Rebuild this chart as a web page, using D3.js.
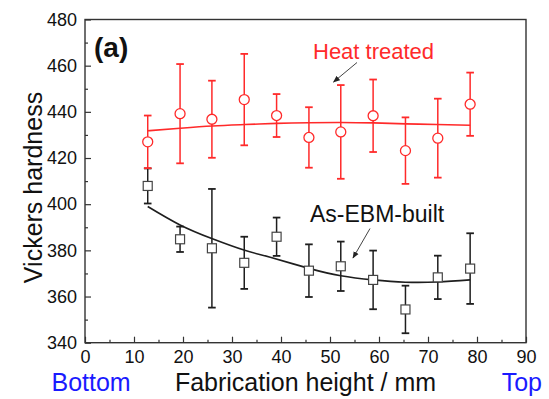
<!DOCTYPE html>
<html>
<head>
<meta charset="utf-8">
<script src="https://cdn.jsdelivr.net/npm/d3@7"></script>
<style>
  body { margin: 0; background: #fff; }
  svg { font-family: "Liberation Sans", Arial, sans-serif; }
</style>
</head>
<body>
<svg id="chart" width="549" height="399"></svg>
<script>
// ── Data ──────────────────────────────────────────────────────────────────
const heights = [12.8, 19.4, 25.9, 32.5, 39.1, 45.7, 52.2, 58.8, 65.4, 72.0, 78.6];

const heatMean = [427.0, 439.2, 436.8, 445.3, 438.4, 428.9, 431.3, 438.3, 423.2, 428.6, 443.3];
const heatErr  = [11.4, 21.5, 16.7, 19.8, 9.3, 13.1, 20.3, 15.7, 14.4, 17.1, 13.7];

const asBuiltMean = [407.9, 384.8, 380.9, 374.6, 385.9, 371.2, 373.1, 367.2, 354.4, 368.3, 372.1];
const asBuiltErr  = [7.6, 5.5, 25.7, 11.3, 8.3, 11.4, 10.7, 12.7, 10.3, 9.4, 15.3];

// fitted trend curves
const heatFitX = [12.8, 19.4, 26.0, 32.6, 39.1, 45.7, 52.2, 58.9, 65.5, 71.8, 78.6];
const heatFitY = [431.8, 432.9, 433.9, 434.5, 435.0, 435.3, 435.4, 435.2, 434.8, 434.5, 434.2];
const asBuiltFitX = [12.8, 19.4, 26.0, 32.6, 37.8, 45.7, 52.2, 58.8, 65.4, 72.0, 78.6];
const asBuiltFitY = [399.0, 391.0, 385.0, 380.0, 377.0, 372.2, 369.0, 367.2, 366.2, 366.3, 367.2];

const xTicks = [0, 10, 20, 30, 40, 50, 60, 70, 80, 90];
const yTicks = [340, 360, 380, 400, 420, 440, 460, 480];

// ── Layout ─────────────────────────────────────────────────────────────
const svg = d3.select("#chart");
const margin = { left: 85, top: 19.5, right: 23, bottom: 56.3 };
const W = 549, H = 399;
const iw = W - margin.left - margin.right;
const ih = H - margin.top - margin.bottom;

const x = d3.scaleLinear().domain([0, 90]).range([0, iw]);
const y = d3.scaleLinear().domain([340, 480]).range([ih, 0]);

const g = svg.append("g").attr("transform", `translate(${margin.left},${margin.top})`);

const RED = "#ff2a2a";
const DARK = "#1e1e1e";
const AXIS = "#333";

// minor ticks
g.append("g")
  .attr("transform", `translate(0,${ih})`)
  .call(d3.axisBottom(x).tickValues(d3.range(5, 90, 10)).tickSize(-3).tickFormat(""))
  .call(a => a.select(".domain").remove())
  .selectAll("line").attr("stroke", AXIS).attr("stroke-width", 1.2);
g.append("g")
  .call(d3.axisLeft(y).tickValues(d3.range(350, 480, 20)).tickSize(-3).tickFormat(""))
  .call(a => a.select(".domain").remove())
  .selectAll("line").attr("stroke", AXIS).attr("stroke-width", 1.2);

// major ticks + labels
const xAxis = g.append("g")
  .attr("transform", `translate(0,${ih})`)
  .call(d3.axisBottom(x).tickValues(xTicks).tickSize(-6).tickPadding(8).tickFormat(d3.format("d")));
const yAxis = g.append("g")
  .call(d3.axisLeft(y).tickValues(yTicks).tickSize(-6).tickPadding(8).tickFormat(d3.format("d")));

[xAxis, yAxis].forEach(a => {
  a.select(".domain").remove();
  a.selectAll("line").attr("stroke", AXIS).attr("stroke-width", 1.2);
  a.selectAll("text")
    .attr("fill", "#111")
    .style("font-size", "18px")
    .style("font-family", "'Liberation Sans', Arial, sans-serif");
});

// frame
g.append("rect")
  .attr("width", iw).attr("height", ih)
  .attr("fill", "none").attr("stroke", AXIS).attr("stroke-width", 1.4);

// ── Fit curves ──────────────────────────────────────────────────────────
const fitLine = d3.line().x(d => x(d[0])).y(d => y(d[1])).curve(d3.curveNatural);

g.append("path")
  .datum(d3.zip(heatFitX, heatFitY))
  .attr("d", fitLine)
  .attr("fill", "none").attr("stroke", RED).attr("stroke-width", 1.6);

g.append("path")
  .datum(d3.zip(asBuiltFitX, asBuiltFitY))
  .attr("d", fitLine)
  .attr("fill", "none").attr("stroke", DARK).attr("stroke-width", 1.6);

// ── Error bars + markers ──────────────────────────────────────────────────
function drawSeries(means, errs, color, shape) {
  const rows = heights.map((h, i) => ({ h, m: means[i], e: errs[i] }));
  const s = g.append("g");
  const bar = s.selectAll("g").data(rows).enter().append("g")
    .attr("stroke", color).attr("stroke-width", 1.5);
  bar.append("line")
    .attr("x1", d => x(d.h)).attr("x2", d => x(d.h))
    .attr("y1", d => y(d.m - d.e)).attr("y2", d => y(d.m + d.e));
  [-1, 1].forEach(k => {
    bar.append("line")
      .attr("x1", d => x(d.h) - 3.8).attr("x2", d => x(d.h) + 3.8)
      .attr("y1", d => y(d.m + k * d.e)).attr("y2", d => y(d.m + k * d.e))
      .attr("stroke-width", 1.8);
  });
  if (shape === "circle") {
    s.selectAll("circle").data(rows).enter().append("circle")
      .attr("cx", d => x(d.h)).attr("cy", d => y(d.m)).attr("r", 5)
      .attr("fill", "#fff").attr("stroke", color).attr("stroke-width", 1.3);
  } else {
    s.selectAll("rect.mk").data(rows).enter().append("rect")
      .attr("class", "mk")
      .attr("x", d => x(d.h) - 4.5).attr("y", d => y(d.m) - 4.5)
      .attr("width", 9).attr("height", 9)
      .attr("fill", "#fff").attr("stroke", "#444").attr("stroke-width", 1.2);
  }
}

drawSeries(asBuiltMean, asBuiltErr, DARK, "square");
drawSeries(heatMean, heatErr, RED, "circle");

// ── Annotations ────────────────────────────────────────────────────────
const defs = svg.append("defs");
defs.append("marker")
  .attr("id", "arrow")
  .attr("viewBox", "0 -5 10 10")
  .attr("refX", 9).attr("refY", 0)
  .attr("markerWidth", 7).attr("markerHeight", 7)
  .attr("markerUnits", "userSpaceOnUse")
  .attr("orient", "auto")
  .append("path").attr("d", "M0,-4L10,0L0,4Z").attr("fill", "#222");

svg.append("line")
  .attr("x1", 357).attr("y1", 62.5).attr("x2", 333.5).attr("y2", 82)
  .attr("stroke", "#444").attr("stroke-width", 1).attr("marker-end", "url(#arrow)");
svg.append("line")
  .attr("x1", 370).attr("y1", 228.5).attr("x2", 353).attr("y2", 258)
  .attr("stroke", "#444").attr("stroke-width", 1).attr("marker-end", "url(#arrow)");

svg.append("text")
  .attr("x", 313).attr("y", 58.5)
  .attr("fill", RED).style("font-size", "22px")
  .text("Heat treated");

svg.append("text")
  .attr("x", 310).attr("y", 221.5)
  .attr("fill", "#111").style("font-size", "23px")
  .text("As-EBM-built");

svg.append("text")
  .attr("x", 94).attr("y", 57)
  .attr("fill", "#111").style("font-size", "28px").style("font-weight", "bold")
  .text("(a)");

// axis titles
svg.append("text")
  .attr("x", margin.left + iw / 2).attr("y", 391)
  .attr("text-anchor", "middle")
  .attr("fill", "#111").style("font-size", "25px")
  .text("Fabrication height / mm");

svg.append("text")
  .attr("transform", `translate(42,187.5) rotate(-90)`)
  .attr("text-anchor", "middle")
  .attr("fill", "#111").style("font-size", "25px")
  .text("Vickers hardness");

svg.append("text")
  .attr("x", 51.5).attr("y", 391)
  .attr("fill", "#1a1aff").style("font-size", "25px")
  .text("Bottom");

svg.append("text")
  .attr("x", 542).attr("y", 391)
  .attr("text-anchor", "end")
  .attr("fill", "#1a1aff").style("font-size", "25px")
  .text("Top");
</script>
</body>
</html>
